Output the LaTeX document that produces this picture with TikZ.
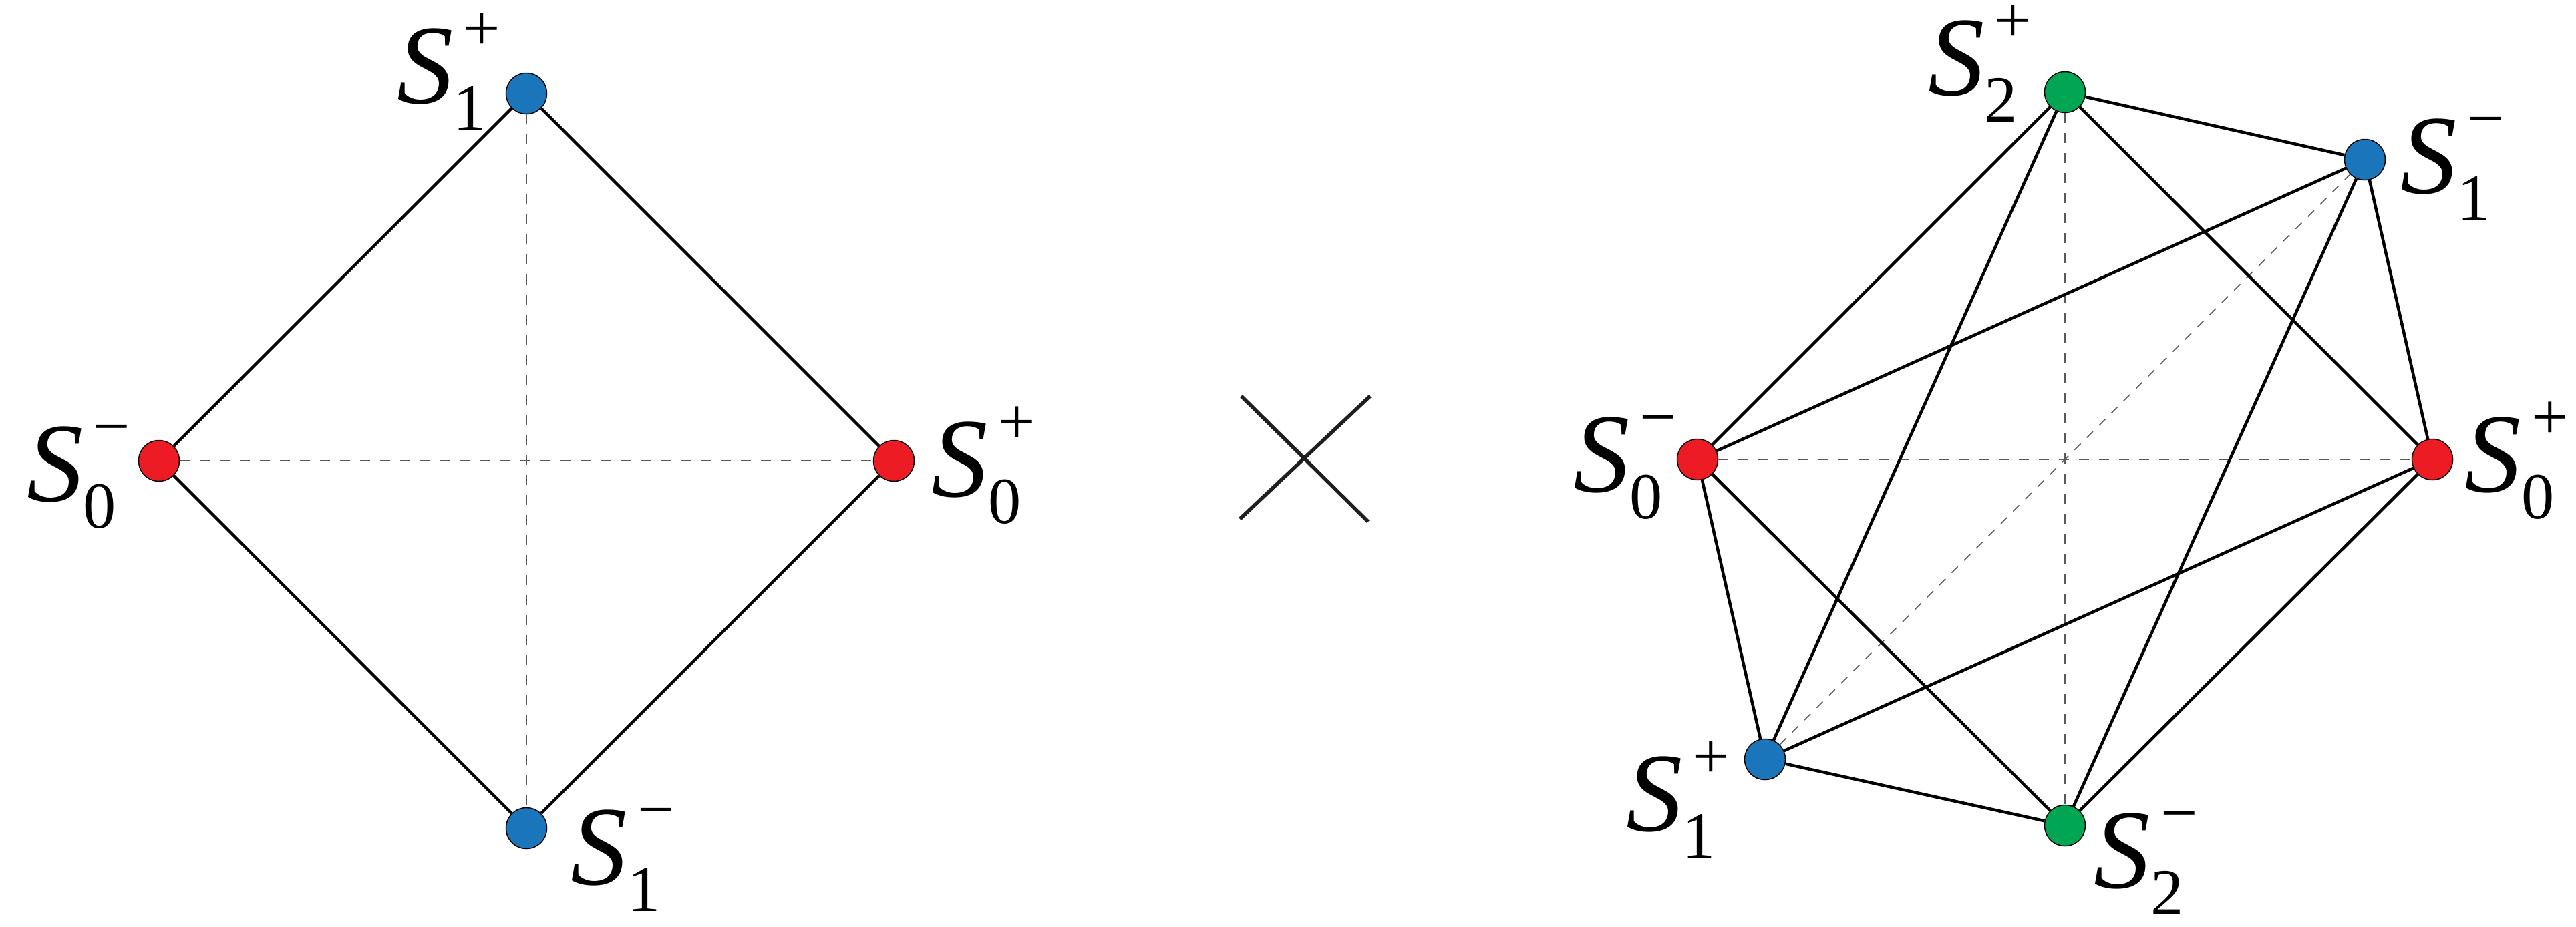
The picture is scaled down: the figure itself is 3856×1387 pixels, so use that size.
\documentclass[tikz,border=0pt]{standalone}
\usepackage{fontspec}
\setmainfont{Liberation Serif}
\usepackage{tikz}
\usetikzlibrary{positioning, calc}
\definecolor{dotblue}{HTML}{1B75BB}
\definecolor{dotred}{HTML}{ED1C24}
\definecolor{dotgreen}{HTML}{00A651}
\tikzstyle{dot} = [circle, draw, line width=0.15mm, minimum size=6.1mm, inner sep=0pt]
\tikzstyle{bond} = [line width=0.45mm]
\tikzstyle{axis} = [line width=0.2mm, black!65, dash pattern=on 1.5mm off 1.5mm]
\tikzstyle{thinaxis} = [line width=0.15mm, black!65, dash pattern=on 1.3mm off 1.3mm]
\tikzstyle{lbl} = [inner sep=0pt, font=\fontsize{48}{58}\selectfont]
\newcommand{\scr}{\fontsize{28}{30}\selectfont}
% S with subscript #1 and superscript #2
\newcommand{\St}[2]{\textit{S}\rlap{\raisebox{-4mm}{\scr #1}}\kern1.5mm\raisebox{7.9mm}{\scr #2}}

\begin{document}
\begin{tikzpicture}[x=0.1mm, y=-0.1mm]
  \useasboundingbox (0,0) rectangle (3856,1387);

  % Square
  \node[dot, fill=dotblue] (s1p) at (788,140) {};
  \node[dot, fill=dotred] (s0m) at (238,690) {};
  \node[dot, fill=dotred] (s0p) at (1338,690) {};
  \node[dot, fill=dotblue] (s1m) at (788,1240) {};
  \draw[axis] (s0m) -- (s0p);
  \draw[axis] (s1p) -- (s1m);
  \draw[bond] (s1p) -- (s0p) -- (s1m) -- (s0m) -- (s1p);
  \node[lbl, anchor=base east] (ls1p) at ($(s1p)+(-38,14)$) {\St{1}{+}};
  \node[lbl, anchor=base east] (ls0m) at ($(s0m)+(-42,60)$) {\St{0}{−}};
  \node[lbl, anchor=base west] (ls0p) at ($(s0p)+(56,53)$) {\St{0}{+}};
  \node[lbl, anchor=base west] (ls1m) at ($(s1m)+(66,84)$) {\St{1}{−}};

  % Times sign
  \coordinate (xa) at (1858,593);
  \coordinate (xb) at (2048,781);
  \coordinate (xc) at (2051,593);
  \coordinate (xd) at (1856,777);
  \draw[line width=0.55mm, black!88] (xa) -- (xb) (xc) -- (xd);

  % Octahedron
  \node[dot, fill=dotgreen] (r2p) at (3091,138) {};
  \node[dot, fill=dotblue] (r1m) at (3540,239) {};
  \node[dot, fill=dotred] (r0p) at (3641,688) {};
  \node[dot, fill=dotgreen] (r2m) at (3091,1236) {};
  \node[dot, fill=dotblue] (r1p) at (2642,1137) {};
  \node[dot, fill=dotred] (r0m) at (2541,688) {};
  \draw[axis] (r0m) -- (r0p);
  \draw[axis] (r2p) -- (r2m);
  \draw[thinaxis] (r1p) -- (r1m);
  \foreach \a/\b in {r2p/r1m, r2p/r0p, r2p/r0m, r2p/r1p,
                     r2m/r1m, r2m/r0p, r2m/r0m, r2m/r1p,
                     r0m/r1m, r0m/r1p, r0p/r1m, r0p/r1p}
    \draw[bond] (\a) -- (\b);
  \node[lbl, anchor=base east] (lr2p) at ($(r2p)+(-49,4)$) {\St{2}{+}};
  \node[lbl, anchor=base west] (lr1m) at ($(r1m)+(53,50)$) {\St{1}{−}};
  \node[lbl, anchor=base west] (lr0p) at ($(r0p)+(48,48)$) {\St{0}{+}};
  \node[lbl, anchor=base west] (lr2m) at ($(r2m)+(43,93)$) {\St{2}{−}};
  \node[lbl, anchor=base east] (lr1p) at ($(r1p)+(-52,107)$) {\St{1}{+}};
  \node[lbl, anchor=base east] (lr0m) at ($(r0m)+(-30,48)$) {\St{0}{−}};
\end{tikzpicture}
\end{document}
